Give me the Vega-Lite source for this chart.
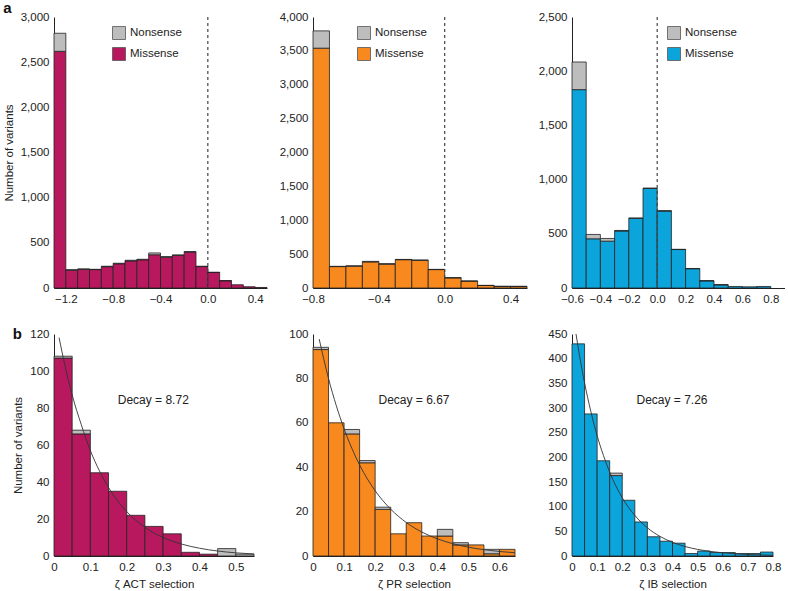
{
  "$schema": "https://vega.github.io/schema/vega-lite/v6.json",
  "padding": {"left": 3, "top": 1, "right": 0, "bottom": 0},
  "config": {
    "font": "Liberation Sans",
    "view": {"stroke": null},
    "axis": {"ticks": false, "grid": false, "domainColor": "#222", "domainWidth": 1, "labelFontSize": 11.5, "labelColor": "#222", "titleFontSize": 11.5, "titleFontWeight": "normal", "titleColor": "#222", "labelPadding": 5, "titlePadding": 6, "labelOverlap": false, "labelBound": false, "labelFlush": false},
    "legend": {"symbolType": "square", "symbolSize": 169, "symbolStrokeColor": "#555", "symbolStrokeWidth": 0.8, "labelFontSize": 11.5, "labelColor": "#222", "rowPadding": 3, "labelOffset": 4},
    "title": {"fontSize": 15, "fontWeight": "bold", "color": "#111", "anchor": "start", "frame": "bounds"}
  },
  "datasets": {
    "a1": [
      {"start": -1.3, "end": -1.2, "type": "Missense", "count": 2620}, {"start": -1.3, "end": -1.2, "type": "Nonsense", "count": 200},
      {"start": -1.2, "end": -1.1, "type": "Missense", "count": 198}, {"start": -1.2, "end": -1.1, "type": "Nonsense", "count": 4},
      {"start": -1.1, "end": -1.0, "type": "Missense", "count": 207}, {"start": -1.1, "end": -1.0, "type": "Nonsense", "count": 4},
      {"start": -1.0, "end": -0.9, "type": "Missense", "count": 204}, {"start": -1.0, "end": -0.9, "type": "Nonsense", "count": 3},
      {"start": -0.9, "end": -0.8, "type": "Missense", "count": 236}, {"start": -0.9, "end": -0.8, "type": "Nonsense", "count": 5},
      {"start": -0.8, "end": -0.7, "type": "Missense", "count": 268}, {"start": -0.8, "end": -0.7, "type": "Nonsense", "count": 6},
      {"start": -0.7, "end": -0.6, "type": "Missense", "count": 300}, {"start": -0.7, "end": -0.6, "type": "Nonsense", "count": 7},
      {"start": -0.6, "end": -0.5, "type": "Missense", "count": 312}, {"start": -0.6, "end": -0.5, "type": "Nonsense", "count": 6},
      {"start": -0.5, "end": -0.4, "type": "Missense", "count": 368}, {"start": -0.5, "end": -0.4, "type": "Nonsense", "count": 20},
      {"start": -0.4, "end": -0.3, "type": "Missense", "count": 340}, {"start": -0.4, "end": -0.3, "type": "Nonsense", "count": 8},
      {"start": -0.3, "end": -0.2, "type": "Missense", "count": 360}, {"start": -0.3, "end": -0.2, "type": "Nonsense", "count": 7},
      {"start": -0.2, "end": -0.1, "type": "Missense", "count": 397}, {"start": -0.2, "end": -0.1, "type": "Nonsense", "count": 7},
      {"start": -0.1, "end": 0.0, "type": "Missense", "count": 237}, {"start": -0.1, "end": 0.0, "type": "Nonsense", "count": 4},
      {"start": 0.0, "end": 0.1, "type": "Missense", "count": 172}, {"start": 0.0, "end": 0.1, "type": "Nonsense", "count": 2},
      {"start": 0.1, "end": 0.2, "type": "Missense", "count": 80}, {"start": 0.1, "end": 0.2, "type": "Nonsense", "count": 1},
      {"start": 0.2, "end": 0.3, "type": "Missense", "count": 36},
      {"start": 0.3, "end": 0.4, "type": "Missense", "count": 14},
      {"start": 0.4, "end": 0.5, "type": "Missense", "count": 6}
    ],
    "a2": [
      {"start": -0.8, "end": -0.7, "type": "Missense", "count": 3540}, {"start": -0.8, "end": -0.7, "type": "Nonsense", "count": 255},
      {"start": -0.7, "end": -0.6, "type": "Missense", "count": 316}, {"start": -0.7, "end": -0.6, "type": "Nonsense", "count": 4},
      {"start": -0.6, "end": -0.5, "type": "Missense", "count": 322}, {"start": -0.6, "end": -0.5, "type": "Nonsense", "count": 5},
      {"start": -0.5, "end": -0.4, "type": "Missense", "count": 385}, {"start": -0.5, "end": -0.4, "type": "Nonsense", "count": 8},
      {"start": -0.4, "end": -0.3, "type": "Missense", "count": 352}, {"start": -0.4, "end": -0.3, "type": "Nonsense", "count": 7},
      {"start": -0.3, "end": -0.2, "type": "Missense", "count": 418}, {"start": -0.3, "end": -0.2, "type": "Nonsense", "count": 4},
      {"start": -0.2, "end": -0.1, "type": "Missense", "count": 408}, {"start": -0.2, "end": -0.1, "type": "Nonsense", "count": 5},
      {"start": -0.1, "end": 0.0, "type": "Missense", "count": 272}, {"start": -0.1, "end": 0.0, "type": "Nonsense", "count": 3},
      {"start": 0.0, "end": 0.1, "type": "Missense", "count": 150}, {"start": 0.0, "end": 0.1, "type": "Nonsense", "count": 2},
      {"start": 0.1, "end": 0.2, "type": "Missense", "count": 101}, {"start": 0.1, "end": 0.2, "type": "Nonsense", "count": 2},
      {"start": 0.2, "end": 0.3, "type": "Missense", "count": 37}, {"start": 0.2, "end": 0.3, "type": "Nonsense", "count": 2},
      {"start": 0.3, "end": 0.4, "type": "Missense", "count": 23}, {"start": 0.3, "end": 0.4, "type": "Nonsense", "count": 2},
      {"start": 0.4, "end": 0.5, "type": "Missense", "count": 22}, {"start": 0.4, "end": 0.5, "type": "Nonsense", "count": 4}
    ],
    "a3": [
      {"start": -0.6, "end": -0.5, "type": "Missense", "count": 1830}, {"start": -0.6, "end": -0.5, "type": "Nonsense", "count": 255},
      {"start": -0.5, "end": -0.4, "type": "Missense", "count": 454}, {"start": -0.5, "end": -0.4, "type": "Nonsense", "count": 40},
      {"start": -0.4, "end": -0.3, "type": "Missense", "count": 432}, {"start": -0.4, "end": -0.3, "type": "Nonsense", "count": 25},
      {"start": -0.3, "end": -0.2, "type": "Missense", "count": 526}, {"start": -0.3, "end": -0.2, "type": "Nonsense", "count": 5},
      {"start": -0.2, "end": -0.1, "type": "Missense", "count": 642}, {"start": -0.2, "end": -0.1, "type": "Nonsense", "count": 4},
      {"start": -0.1, "end": 0.0, "type": "Missense", "count": 918}, {"start": -0.1, "end": 0.0, "type": "Nonsense", "count": 4},
      {"start": 0.0, "end": 0.1, "type": "Missense", "count": 710}, {"start": 0.0, "end": 0.1, "type": "Nonsense", "count": 3},
      {"start": 0.1, "end": 0.2, "type": "Missense", "count": 355}, {"start": 0.1, "end": 0.2, "type": "Nonsense", "count": 2},
      {"start": 0.2, "end": 0.3, "type": "Missense", "count": 178}, {"start": 0.2, "end": 0.3, "type": "Nonsense", "count": 2},
      {"start": 0.3, "end": 0.4, "type": "Missense", "count": 66}, {"start": 0.3, "end": 0.4, "type": "Nonsense", "count": 1},
      {"start": 0.4, "end": 0.5, "type": "Missense", "count": 29}, {"start": 0.4, "end": 0.5, "type": "Nonsense", "count": 1},
      {"start": 0.5, "end": 0.6, "type": "Missense", "count": 14},
      {"start": 0.6, "end": 0.7, "type": "Missense", "count": 11},
      {"start": 0.7, "end": 0.8, "type": "Missense", "count": 14}
    ],
    "b1": [
      {"start": 0.0, "end": 0.05, "type": "Missense", "count": 107}, {"start": 0.0, "end": 0.05, "type": "Nonsense", "count": 1},
      {"start": 0.05, "end": 0.1, "type": "Missense", "count": 66}, {"start": 0.05, "end": 0.1, "type": "Nonsense", "count": 2},
      {"start": 0.1, "end": 0.15, "type": "Missense", "count": 45},
      {"start": 0.15, "end": 0.2, "type": "Missense", "count": 35},
      {"start": 0.2, "end": 0.25, "type": "Missense", "count": 22},
      {"start": 0.25, "end": 0.3, "type": "Missense", "count": 16},
      {"start": 0.3, "end": 0.35, "type": "Missense", "count": 12},
      {"start": 0.35, "end": 0.4, "type": "Missense", "count": 2},
      {"start": 0.4, "end": 0.45, "type": "Missense", "count": 1},
      {"start": 0.45, "end": 0.5, "type": "Nonsense", "count": 4},
      {"start": 0.5, "end": 0.55, "type": "Nonsense", "count": 1}
    ],
    "b2": [
      {"start": 0.0, "end": 0.05, "type": "Missense", "count": 93}, {"start": 0.0, "end": 0.05, "type": "Nonsense", "count": 1},
      {"start": 0.05, "end": 0.1, "type": "Missense", "count": 60},
      {"start": 0.1, "end": 0.15, "type": "Missense", "count": 55}, {"start": 0.1, "end": 0.15, "type": "Nonsense", "count": 2},
      {"start": 0.15, "end": 0.2, "type": "Missense", "count": 42}, {"start": 0.15, "end": 0.2, "type": "Nonsense", "count": 1},
      {"start": 0.2, "end": 0.25, "type": "Missense", "count": 21}, {"start": 0.2, "end": 0.25, "type": "Nonsense", "count": 1},
      {"start": 0.25, "end": 0.3, "type": "Missense", "count": 10},
      {"start": 0.3, "end": 0.35, "type": "Missense", "count": 15},
      {"start": 0.35, "end": 0.4, "type": "Missense", "count": 9},
      {"start": 0.4, "end": 0.45, "type": "Missense", "count": 9}, {"start": 0.4, "end": 0.45, "type": "Nonsense", "count": 3},
      {"start": 0.45, "end": 0.5, "type": "Missense", "count": 5}, {"start": 0.45, "end": 0.5, "type": "Nonsense", "count": 1},
      {"start": 0.5, "end": 0.55, "type": "Missense", "count": 5},
      {"start": 0.55, "end": 0.6, "type": "Missense", "count": 1}, {"start": 0.55, "end": 0.6, "type": "Nonsense", "count": 2},
      {"start": 0.6, "end": 0.65, "type": "Missense", "count": 3}
    ],
    "b3": [
      {"start": 0.0, "end": 0.05, "type": "Missense", "count": 430},
      {"start": 0.05, "end": 0.1, "type": "Missense", "count": 288},
      {"start": 0.1, "end": 0.15, "type": "Missense", "count": 193},
      {"start": 0.15, "end": 0.2, "type": "Missense", "count": 163}, {"start": 0.15, "end": 0.2, "type": "Nonsense", "count": 5},
      {"start": 0.2, "end": 0.25, "type": "Missense", "count": 113},
      {"start": 0.25, "end": 0.3, "type": "Missense", "count": 69},
      {"start": 0.3, "end": 0.35, "type": "Missense", "count": 39},
      {"start": 0.35, "end": 0.4, "type": "Missense", "count": 30},
      {"start": 0.4, "end": 0.45, "type": "Missense", "count": 26},
      {"start": 0.45, "end": 0.5, "type": "Missense", "count": 5},
      {"start": 0.5, "end": 0.55, "type": "Missense", "count": 10},
      {"start": 0.55, "end": 0.6, "type": "Missense", "count": 7},
      {"start": 0.6, "end": 0.65, "type": "Missense", "count": 7},
      {"start": 0.65, "end": 0.7, "type": "Missense", "count": 5},
      {"start": 0.7, "end": 0.75, "type": "Missense", "count": 5},
      {"start": 0.75, "end": 0.8, "type": "Missense", "count": 8}
    ],
    "c1": [
      {"x": 0.014, "y": 118}, {"x": 0.03, "y": 103}, {"x": 0.05, "y": 87}, {"x": 0.075, "y": 71}, {"x": 0.1, "y": 57},
      {"x": 0.125, "y": 46}, {"x": 0.15, "y": 37}, {"x": 0.2, "y": 24}, {"x": 0.25, "y": 15.5}, {"x": 0.3, "y": 10},
      {"x": 0.35, "y": 6.5}, {"x": 0.4, "y": 4.2}, {"x": 0.45, "y": 2.7}, {"x": 0.5, "y": 1.7}, {"x": 0.55, "y": 1.1}
    ],
    "c2": [
      {"x": 0.02, "y": 97.7}, {"x": 0.05, "y": 79.9}, {"x": 0.075, "y": 67.7}, {"x": 0.1, "y": 57.3}, {"x": 0.125, "y": 48.5},
      {"x": 0.15, "y": 41}, {"x": 0.2, "y": 29.4}, {"x": 0.25, "y": 21.1}, {"x": 0.3, "y": 15.1}, {"x": 0.35, "y": 10.8},
      {"x": 0.4, "y": 7.75}, {"x": 0.45, "y": 5.55}, {"x": 0.5, "y": 3.97}, {"x": 0.55, "y": 2.85}, {"x": 0.6, "y": 2.04}, {"x": 0.65, "y": 1.46}
    ],
    "c3": [
      {"x": 0.016, "y": 450}, {"x": 0.03, "y": 406}, {"x": 0.05, "y": 351}, {"x": 0.075, "y": 293}, {"x": 0.1, "y": 244},
      {"x": 0.125, "y": 204}, {"x": 0.15, "y": 170}, {"x": 0.2, "y": 118}, {"x": 0.25, "y": 82.2}, {"x": 0.3, "y": 57.2},
      {"x": 0.35, "y": 39.8}, {"x": 0.4, "y": 27.7}, {"x": 0.45, "y": 19.2}, {"x": 0.5, "y": 13.4}, {"x": 0.55, "y": 9.3},
      {"x": 0.6, "y": 6.5}, {"x": 0.65, "y": 4.5}, {"x": 0.7, "y": 3.1}, {"x": 0.75, "y": 2.2}, {"x": 0.8, "y": 1.5}
    ]
  },
  "columns": 3,
  "spacing": {"row": 46, "column": 45},
  "bounds": "flush",
  "align": "all",
  "resolve": {"scale": {"x": "independent", "y": "independent", "color": "independent"}, "legend": {"color": "independent"}, "axis": {"x": "independent", "y": "independent"}},
  "concat": [
    {
      "width": 213, "height": 271,
      "title": {"text": "a", "offset": -5},
      "layer": [
        {"data": {"name": "a1"},
         "transform": [{"stack": "count", "groupby": ["start"], "sort": [{"field": "type", "order": "ascending"}], "as": ["lo", "hi"]}],
         "mark": {"type": "bar", "stroke": "#222", "strokeWidth": 0.8},
         "encoding": {
           "x": {"field": "start", "type": "quantitative", "scale": {"domain": [-1.3, 0.5], "nice": false, "zero": false}, "axis": {"values": [-1.2, -0.8, -0.4, 0, 0.4], "format": ".1f", "labelOverlap": false, "labelFlush": false, "title": null}},
           "x2": {"field": "end"},
           "y": {"field": "lo", "type": "quantitative", "scale": {"domain": [0, 3000], "nice": false}, "axis": {"values": [0, 500, 1000, 1500, 2000, 2500, 3000], "format": ",d", "labelOverlap": false, "labelFlush": false, "title": "Number of variants"}},
           "y2": {"field": "hi"},
           "color": {"field": "type", "type": "nominal", "scale": {"domain": ["Nonsense", "Missense"], "range": ["#BDBDBD", "#B8195E"]}, "legend": {"orient": "none", "legendX": 58, "legendY": 9, "title": null}}
         }},
        {"data": {"values": [{"zeta": 0}]},
         "mark": {"type": "rule", "color": "#444", "strokeDash": [3, 3], "strokeWidth": 1.2},
         "encoding": {"x": {"field": "zeta", "type": "quantitative", "scale": {"domain": [-1.3, 0.5], "nice": false, "zero": false}, "axis": {"values": [-1.2, -0.8, -0.4, 0, 0.4], "format": ".1f", "labelOverlap": false, "labelFlush": false, "title": null}}}}
      ]
    },
    {
      "width": 214, "height": 271,
      "layer": [
        {"data": {"name": "a2"},
         "transform": [{"stack": "count", "groupby": ["start"], "sort": [{"field": "type", "order": "ascending"}], "as": ["lo", "hi"]}],
         "mark": {"type": "bar", "stroke": "#222", "strokeWidth": 0.8},
         "encoding": {
           "x": {"field": "start", "type": "quantitative", "scale": {"domain": [-0.8, 0.5], "nice": false, "zero": false}, "axis": {"values": [-0.8, -0.4, 0, 0.4], "format": ".1f", "labelOverlap": false, "labelFlush": false, "title": null}},
           "x2": {"field": "end"},
           "y": {"field": "lo", "type": "quantitative", "scale": {"domain": [0, 4000], "nice": false}, "axis": {"values": [0, 500, 1000, 1500, 2000, 2500, 3000, 3500, 4000], "format": ",d", "labelOverlap": false, "labelFlush": false, "title": null}},
           "y2": {"field": "hi"},
           "color": {"field": "type", "type": "nominal", "scale": {"domain": ["Nonsense", "Missense"], "range": ["#BDBDBD", "#F7891F"]}, "legend": {"orient": "none", "legendX": 44, "legendY": 9, "title": null}}
         }},
        {"data": {"values": [{"zeta": 0}]},
         "mark": {"type": "rule", "color": "#444", "strokeDash": [3, 3], "strokeWidth": 1.2},
         "encoding": {"x": {"field": "zeta", "type": "quantitative", "scale": {"domain": [-0.8, 0.5], "nice": false, "zero": false}, "axis": {"values": [-0.8, -0.4, 0, 0.4], "format": ".1f", "labelOverlap": false, "labelFlush": false, "title": null}}}}
      ]
    },
    {
      "width": 213, "height": 271,
      "layer": [
        {"data": {"name": "a3"},
         "transform": [{"stack": "count", "groupby": ["start"], "sort": [{"field": "type", "order": "ascending"}], "as": ["lo", "hi"]}],
         "mark": {"type": "bar", "stroke": "#222", "strokeWidth": 0.8},
         "encoding": {
           "x": {"field": "start", "type": "quantitative", "scale": {"domain": [-0.6, 0.9], "nice": false, "zero": false}, "axis": {"values": [-0.6, -0.4, -0.2, 0, 0.2, 0.4, 0.6, 0.8], "format": ".1f", "labelOverlap": false, "labelFlush": false, "title": null}},
           "x2": {"field": "end"},
           "y": {"field": "lo", "type": "quantitative", "scale": {"domain": [0, 2500], "nice": false}, "axis": {"values": [0, 500, 1000, 1500, 2000, 2500], "format": ",d", "labelOverlap": false, "labelFlush": false, "title": null}},
           "y2": {"field": "hi"},
           "color": {"field": "type", "type": "nominal", "scale": {"domain": ["Nonsense", "Missense"], "range": ["#BDBDBD", "#0BA5DC"]}, "legend": {"orient": "none", "legendX": 95, "legendY": 9, "title": null}}
         }},
        {"data": {"values": [{"zeta": 0}]},
         "mark": {"type": "rule", "color": "#444", "strokeDash": [3, 3], "strokeWidth": 1.2},
         "encoding": {"x": {"field": "zeta", "type": "quantitative", "scale": {"domain": [-0.6, 0.9], "nice": false, "zero": false}, "axis": {"values": [-0.6, -0.4, -0.2, 0, 0.2, 0.4, 0.6, 0.8], "format": ".1f", "labelOverlap": false, "labelFlush": false, "title": null}}}}
      ]
    },
    {
      "width": 200, "height": 222,
      "title": {"text": "b", "offset": -14},
      "layer": [
        {"data": {"name": "b1"},
         "transform": [{"stack": "count", "groupby": ["start"], "sort": [{"field": "type", "order": "ascending"}], "as": ["lo", "hi"]}],
         "mark": {"type": "bar", "stroke": "#222", "strokeWidth": 0.8},
         "encoding": {
           "x": {"field": "start", "type": "quantitative", "scale": {"domain": [0, 0.55], "nice": false, "zero": false}, "axis": {"values": [0, 0.1, 0.2, 0.3, 0.4, 0.5], "labelExpr": "datum.value === 0 ? '0' : format(datum.value, '.1f')", "labelOverlap": false, "labelFlush": false, "title": "ζ ACT selection"}},
           "x2": {"field": "end"},
           "y": {"field": "lo", "type": "quantitative", "scale": {"domain": [0, 120], "nice": false}, "axis": {"values": [0, 20, 40, 60, 80, 100, 120], "format": "d", "labelOverlap": false, "labelFlush": false, "title": "Number of variants"}},
           "y2": {"field": "hi"},
           "color": {"field": "type", "type": "nominal", "scale": {"domain": ["Nonsense", "Missense"], "range": ["#BDBDBD", "#B8195E"]}, "legend": null}
         }},
        {"data": {"name": "c1"}, "mark": {"type": "line", "color": "#333", "strokeWidth": 0.9, "interpolate": "monotone"},
         "encoding": {
           "x": {"field": "x", "type": "quantitative", "scale": {"domain": [0, 0.55], "nice": false, "zero": false}, "axis": {"values": [0, 0.1, 0.2, 0.3, 0.4, 0.5], "labelExpr": "datum.value === 0 ? '0' : format(datum.value, '.1f')", "labelOverlap": false, "labelFlush": false, "title": "ζ ACT selection"}},
           "y": {"field": "y", "type": "quantitative", "scale": {"domain": [0, 120], "nice": false}, "axis": {"values": [0, 20, 40, 60, 80, 100, 120], "format": "d", "labelOverlap": false, "labelFlush": false, "title": "Number of variants"}}
         }},
        {"data": {"values": [{"label": "Decay = 8.72"}]},
         "mark": {"type": "text", "fontSize": 12, "color": "#222"},
         "encoding": {
           "x": {"datum": 0.273, "type": "quantitative", "scale": {"domain": [0, 0.55], "nice": false, "zero": false}, "axis": {"values": [0, 0.1, 0.2, 0.3, 0.4, 0.5], "labelExpr": "datum.value === 0 ? '0' : format(datum.value, '.1f')", "labelOverlap": false, "labelFlush": false, "title": "ζ ACT selection"}},
           "y": {"datum": 84.5, "type": "quantitative", "scale": {"domain": [0, 120], "nice": false}, "axis": {"values": [0, 20, 40, 60, 80, 100, 120], "format": "d", "labelOverlap": false, "labelFlush": false, "title": "Number of variants"}},
           "text": {"field": "label"}
         }}
      ]
    },
    {
      "width": 202, "height": 222,
      "layer": [
        {"data": {"name": "b2"},
         "transform": [{"stack": "count", "groupby": ["start"], "sort": [{"field": "type", "order": "ascending"}], "as": ["lo", "hi"]}],
         "mark": {"type": "bar", "stroke": "#222", "strokeWidth": 0.8},
         "encoding": {
           "x": {"field": "start", "type": "quantitative", "scale": {"domain": [0, 0.65], "nice": false, "zero": false}, "axis": {"values": [0, 0.1, 0.2, 0.3, 0.4, 0.5, 0.6], "labelExpr": "datum.value === 0 ? '0' : format(datum.value, '.1f')", "labelOverlap": false, "labelFlush": false, "title": "ζ PR selection"}},
           "x2": {"field": "end"},
           "y": {"field": "lo", "type": "quantitative", "scale": {"domain": [0, 100], "nice": false}, "axis": {"values": [0, 20, 40, 60, 80, 100], "format": "d", "labelOverlap": false, "labelFlush": false, "title": null}},
           "y2": {"field": "hi"},
           "color": {"field": "type", "type": "nominal", "scale": {"domain": ["Nonsense", "Missense"], "range": ["#BDBDBD", "#F7891F"]}, "legend": null}
         }},
        {"data": {"name": "c2"}, "mark": {"type": "line", "color": "#333", "strokeWidth": 0.9, "interpolate": "monotone"},
         "encoding": {
           "x": {"field": "x", "type": "quantitative", "scale": {"domain": [0, 0.65], "nice": false, "zero": false}, "axis": {"values": [0, 0.1, 0.2, 0.3, 0.4, 0.5, 0.6], "labelExpr": "datum.value === 0 ? '0' : format(datum.value, '.1f')", "labelOverlap": false, "labelFlush": false, "title": "ζ PR selection"}},
           "y": {"field": "y", "type": "quantitative", "scale": {"domain": [0, 100], "nice": false}, "axis": {"values": [0, 20, 40, 60, 80, 100], "format": "d", "labelOverlap": false, "labelFlush": false, "title": null}}
         }},
        {"data": {"values": [{"label": "Decay = 6.67"}]},
         "mark": {"type": "text", "fontSize": 12, "color": "#222"},
         "encoding": {
           "x": {"datum": 0.325, "type": "quantitative", "scale": {"domain": [0, 0.65], "nice": false, "zero": false}, "axis": {"values": [0, 0.1, 0.2, 0.3, 0.4, 0.5, 0.6], "labelExpr": "datum.value === 0 ? '0' : format(datum.value, '.1f')", "labelOverlap": false, "labelFlush": false, "title": "ζ PR selection"}},
           "y": {"datum": 70.4, "type": "quantitative", "scale": {"domain": [0, 100], "nice": false}, "axis": {"values": [0, 20, 40, 60, 80, 100], "format": "d", "labelOverlap": false, "labelFlush": false, "title": null}},
           "text": {"field": "label"}
         }}
      ]
    },
    {
      "width": 201, "height": 222,
      "layer": [
        {"data": {"name": "b3"},
         "transform": [{"stack": "count", "groupby": ["start"], "sort": [{"field": "type", "order": "ascending"}], "as": ["lo", "hi"]}],
         "mark": {"type": "bar", "stroke": "#222", "strokeWidth": 0.8},
         "encoding": {
           "x": {"field": "start", "type": "quantitative", "scale": {"domain": [0, 0.8], "nice": false, "zero": false}, "axis": {"values": [0, 0.1, 0.2, 0.3, 0.4, 0.5, 0.6, 0.7, 0.8], "labelExpr": "datum.value === 0 ? '0' : format(datum.value, '.1f')", "labelOverlap": false, "labelFlush": false, "title": "ζ IB selection"}},
           "x2": {"field": "end"},
           "y": {"field": "lo", "type": "quantitative", "scale": {"domain": [0, 450], "nice": false}, "axis": {"values": [0, 50, 100, 150, 200, 250, 300, 350, 400, 450], "format": "d", "labelOverlap": false, "labelFlush": false, "title": null}},
           "y2": {"field": "hi"},
           "color": {"field": "type", "type": "nominal", "scale": {"domain": ["Nonsense", "Missense"], "range": ["#BDBDBD", "#0BA5DC"]}, "legend": null}
         }},
        {"data": {"name": "c3"}, "mark": {"type": "line", "color": "#333", "strokeWidth": 0.9, "interpolate": "monotone"},
         "encoding": {
           "x": {"field": "x", "type": "quantitative", "scale": {"domain": [0, 0.8], "nice": false, "zero": false}, "axis": {"values": [0, 0.1, 0.2, 0.3, 0.4, 0.5, 0.6, 0.7, 0.8], "labelExpr": "datum.value === 0 ? '0' : format(datum.value, '.1f')", "labelOverlap": false, "labelFlush": false, "title": "ζ IB selection"}},
           "y": {"field": "y", "type": "quantitative", "scale": {"domain": [0, 450], "nice": false}, "axis": {"values": [0, 50, 100, 150, 200, 250, 300, 350, 400, 450], "format": "d", "labelOverlap": false, "labelFlush": false, "title": null}}
         }},
        {"data": {"values": [{"label": "Decay = 7.26"}]},
         "mark": {"type": "text", "fontSize": 12, "color": "#222"},
         "encoding": {
           "x": {"datum": 0.398, "type": "quantitative", "scale": {"domain": [0, 0.8], "nice": false, "zero": false}, "axis": {"values": [0, 0.1, 0.2, 0.3, 0.4, 0.5, 0.6, 0.7, 0.8], "labelExpr": "datum.value === 0 ? '0' : format(datum.value, '.1f')", "labelOverlap": false, "labelFlush": false, "title": "ζ IB selection"}},
           "y": {"datum": 317, "type": "quantitative", "scale": {"domain": [0, 450], "nice": false}, "axis": {"values": [0, 50, 100, 150, 200, 250, 300, 350, 400, 450], "format": "d", "labelOverlap": false, "labelFlush": false, "title": null}},
           "text": {"field": "label"}
         }}
      ]
    }
  ]
}
